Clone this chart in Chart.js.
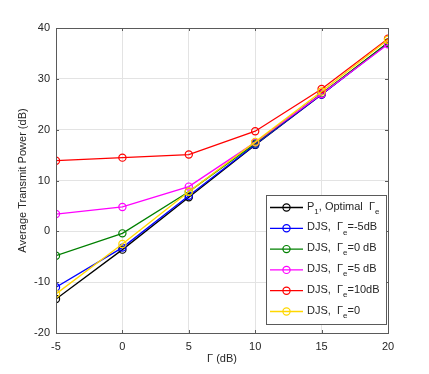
<!DOCTYPE html>
<html>
<head>
<meta charset="utf-8">
<title>Average Transmit Power vs Γ</title>
<script src="https://cdn.jsdelivr.net/npm/chart.js@4/dist/chart.umd.min.js"></script>
<style>
  html, body { margin: 0; padding: 0; background: #fff; }
  canvas { display: block; }
</style>
</head>
<body>
<canvas id="chart" width="429" height="374"></canvas>
<script>
// ---- Data ----
const gammaDb = [-5, 0, 5, 10, 15, 20];
const yTickValues = [-20, -10, 0, 10, 20, 30, 40];

const p1Optimal = [-13.3, -3.6, 6.7, 17.0, 26.9, 37.1];
const djsMinus5 = [-11.0, -3.2, 7.0, 17.1, 26.9, 36.9];
const djsZeroDb = [-4.8, -0.4, 7.8, 17.3, 27.1, 37.1];
const djsFiveDb = [3.4, 4.8, 8.8, 17.5, 27.0, 36.8];
const djsTenDb = [13.9, 14.5, 15.1, 19.7, 28.0, 37.9];
const djsZero = [-12.3, -2.5, 7.8, 17.6, 27.5, 37.7];

// legend text pieces: [text, isSubscript]
const seriesNames = [
  [['P', false], ['1', true], [', Optimal  Γ', false], ['e', true]],
  [['DJS,  Γ', false], ['e', true], ['=-5dB', false]],
  [['DJS,  Γ', false], ['e', true], ['=0 dB', false]],
  [['DJS,  Γ', false], ['e', true], ['=5 dB', false]],
  [['DJS,  Γ', false], ['e', true], ['=10dB', false]],
  [['DJS,  Γ', false], ['e', true], ['=0', false]],
];
const seriesColors = ['#000000', '#0000ff', '#008000', '#ff00ff', '#ff0000', '#ffd700'];
const seriesValues = [p1Optimal, djsMinus5, djsZeroDb, djsFiveDb, djsTenDb, djsZero];

const FONT = "'Liberation Sans', Arial, Helvetica, sans-serif";
const TEXT_COLOR = '#262626';
const AXIS_COLOR = '#5a5a5a';

// ---- Build datasets ----
const datasets = seriesValues.map((vals, i) => ({
  label: seriesNames[i].map(p => p[0]).join(''),
  data: vals.map((v, k) => ({ x: gammaDb[k], y: v })),
  borderColor: seriesColors[i],
  backgroundColor: 'transparent',
  borderWidth: 1.3,
  pointRadius: 3.6,
  pointBorderWidth: 1.2,
  pointBackgroundColor: 'transparent',
  pointBorderColor: seriesColors[i],
  tension: 0,
  order: seriesValues.length - i,   // later series drawn on top, like MATLAB
}));

// ---- Plugin: box, inward ticks and legend ----
const matlabFrame = {
  id: 'matlabFrame',
  afterDraw(chart) {
    const { ctx, chartArea: a, scales } = chart;
    ctx.save();
    // axes box
    ctx.strokeStyle = AXIS_COLOR;
    ctx.lineWidth = 1;
    ctx.strokeRect(Math.round(a.left) + 0.5, Math.round(a.top) + 0.5,
                   Math.round(a.right - a.left), Math.round(a.bottom - a.top));
    // inward tick marks on all four sides
    const tl = 3;
    ctx.beginPath();
    gammaDb.forEach(v => {
      const px = Math.round(scales.x.getPixelForValue(v)) + 0.5;
      ctx.moveTo(px, a.bottom); ctx.lineTo(px, a.bottom - tl);
      ctx.moveTo(px, a.top); ctx.lineTo(px, a.top + tl);
    });
    yTickValues.forEach(v => {
      const py = Math.round(scales.y.getPixelForValue(v)) + 0.5;
      ctx.moveTo(a.left, py); ctx.lineTo(a.left + tl, py);
      ctx.moveTo(a.right, py); ctx.lineTo(a.right - tl, py);
    });
    ctx.stroke();

    // legend
    const lw = 120, lh = 129;
    const lx = Math.round(a.right - 2 - lw), ly = Math.round(a.bottom - 9 - lh);
    ctx.fillStyle = '#fff';
    ctx.fillRect(lx, ly, lw, lh);
    ctx.strokeStyle = AXIS_COLOR;
    ctx.strokeRect(lx + 0.5, ly + 0.5, lw, lh);

    seriesNames.forEach((parts, i) => {
      const cy = ly + 12.5 + i * 20.8;
      const col = seriesColors[i];
      ctx.strokeStyle = col;
      ctx.lineWidth = 1.3;
      ctx.beginPath();
      ctx.moveTo(lx + 4, cy); ctx.lineTo(lx + 37, cy);
      ctx.stroke();
      ctx.lineWidth = 1.2;
      ctx.beginPath();
      ctx.arc(lx + 20.5, cy, 3.6, 0, Math.PI * 2);
      ctx.stroke();

      let tx = lx + 41;
      ctx.fillStyle = TEXT_COLOR;
      ctx.textBaseline = 'middle';
      ctx.textAlign = 'left';
      parts.forEach(([txt, sub]) => {
        ctx.font = (sub ? '8px ' : '11px ') + FONT;
        ctx.fillText(txt, tx, sub ? cy + 4 : cy - 1);
        tx += ctx.measureText(txt).width;
      });
    });
    ctx.restore();
  }
};

new Chart(document.getElementById('chart'), {
  type: 'line',
  data: { datasets },
  options: {
    responsive: false,
    animation: false,
    layout: { padding: { left: 0, right: 41, top: 28, bottom: 0 } },
    plugins: {
      legend: { display: false },
      tooltip: { enabled: false }
    },
    scales: {
      x: {
        type: 'linear',
        min: -5,
        max: 20,
        afterFit: s => { s.height = 41; },
        afterBuildTicks: s => { s.ticks = gammaDb.map(v => ({ value: v })); },
        grid: { color: '#e3e3e3', drawTicks: false },
        border: { display: false },
        ticks: { color: TEXT_COLOR, padding: 7, font: { family: FONT, size: 11 } },
        title: {
          display: true,
          text: 'Γ (dB)',
          color: TEXT_COLOR,
          font: { family: FONT, size: 11 },
          padding: { top: 0, bottom: 8 }
        }
      },
      y: {
        type: 'linear',
        min: -20,
        max: 40,
        afterFit: s => { s.width = 56; },
        afterBuildTicks: s => { s.ticks = yTickValues.map(v => ({ value: v })); },
        grid: { color: '#e3e3e3', drawTicks: false },
        border: { display: false },
        ticks: { color: TEXT_COLOR, padding: 6, font: { family: FONT, size: 11 } },
        title: {
          display: true,
          text: 'Average Transmit Power (dB)',
          color: TEXT_COLOR,
          font: { family: FONT, size: 11 },
          padding: { top: 16, bottom: 0 }
        }
      }
    }
  },
  plugins: [matlabFrame]
});
</script>
</body>
</html>
